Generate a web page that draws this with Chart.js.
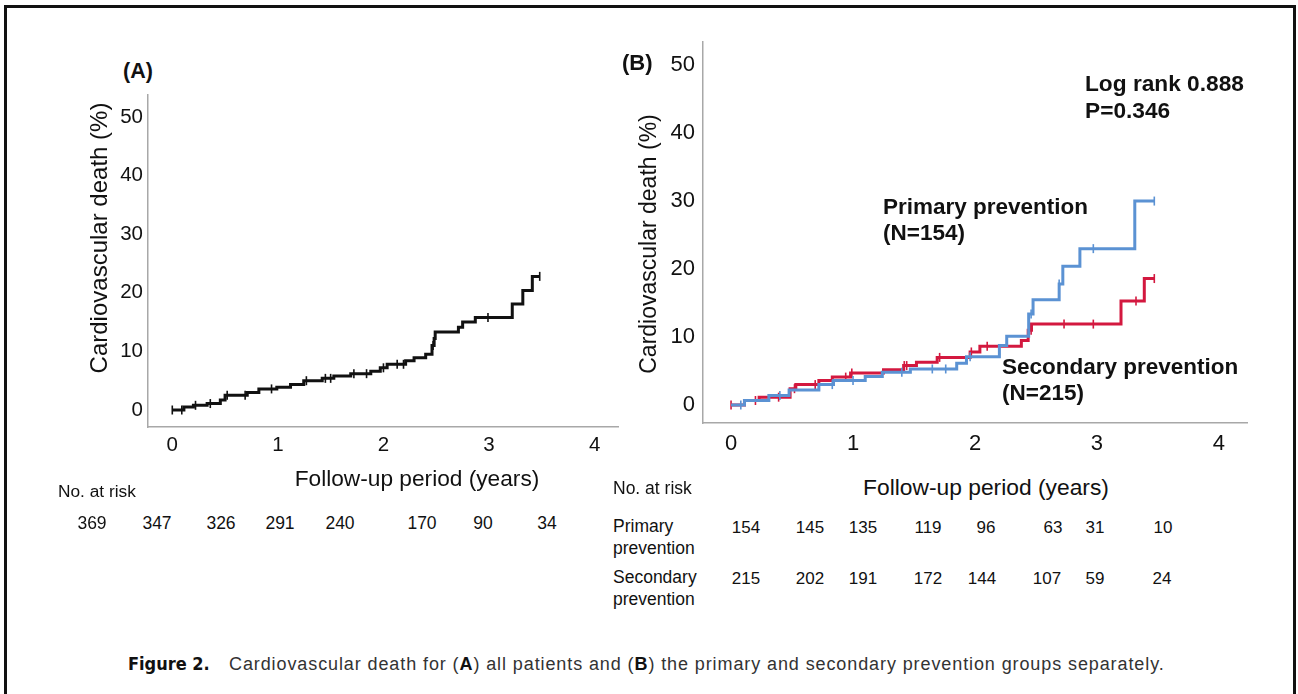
<!DOCTYPE html>
<html>
<head>
<meta charset="utf-8">
<script src="https://cdn.jsdelivr.net/npm/chart.js@4.4.1/dist/chart.umd.min.js"></script>
<style>
  body { margin: 0; width: 1298px; height: 694px; background: #fff; position: relative; overflow: hidden;
         font-family: 'Liberation Sans', Arial, sans-serif; color: #111; }
  .frame { position: absolute; left: 4px; top: 5px; width: 1286px; height: 720px; border: 3px solid #111; border-bottom: none; }
  .t { position: absolute; white-space: nowrap; line-height: 1; }
  .c { transform: translate(-50%, -50%); }
  .l { transform: translateY(-50%); }
  .b { font-weight: bold; }
  .rot { transform: translate(-50%, -50%) rotate(-90deg); }
  canvas { position: absolute; }
</style>
</head>
<body>
<div class="frame"></div>

<canvas id="chartA" width="525" height="382" style="left:100px; top:85px; width:525px; height:382px;"></canvas>
<canvas id="chartB" width="605" height="433" style="left:650px; top:30px; width:605px; height:433px;"></canvas>

<div class="t l b" style="left:123px; top:72px; font-size:21.5px;">(A)</div>
<div class="t l b" style="left:622px; top:63px; font-size:22px;">(B)</div>

<div class="t rot" style="left:99px; top:238px; font-size:24px;">Cardiovascular death (%)</div>
<div class="t rot" style="left:648px; top:244px; font-size:23px;">Cardiovascular death (%)</div>
<div class="t c" style="left:417px; top:478px; font-size:22.7px;">Follow-up period (years)</div>
<div class="t c" style="left:986px; top:487px; font-size:22.8px;">Follow-up period (years)</div>

<div class="t l b" style="left:1085px; top:83px; font-size:22.7px;">Log rank 0.888</div>
<div class="t l b" style="left:1085px; top:110px; font-size:22.7px;">P=0.346</div>
<div class="t l b" style="left:883px; top:207px; font-size:22.5px;">Primary prevention</div>
<div class="t l b" style="left:883px; top:233px; font-size:22.5px;">(N=154)</div>
<div class="t l b" style="left:1002px; top:367px; font-size:22.5px;">Secondary prevention</div>
<div class="t l b" style="left:1002px; top:393px; font-size:22.5px;">(N=215)</div>

<div class="t l" style="left:58px; top:492px; font-size:17.3px;">No. at risk</div>
<div class="t l" style="left:613px; top:489px; font-size:17.5px;">No. at risk</div>
<div class="t l" style="left:613px; top:527px; font-size:17.5px;">Primary</div>
<div class="t l" style="left:613px; top:549px; font-size:17.5px;">prevention</div>
<div class="t l" style="left:613px; top:578px; font-size:17.5px;">Secondary</div>
<div class="t l" style="left:613px; top:600px; font-size:17.5px;">prevention</div>
<div id="risk"></div>

<div class="t l b" style="left:128px; top:664px; font-size:18px; font-family:'Liberation Sans Narrow','DejaVu Sans Condensed',sans-serif;">Figure 2.</div>
<div class="t l" style="left:229px; top:664px; font-size:18px; letter-spacing:0.9px; color:#333;">Cardiovascular death for (<b style="color:#111">A</b>) all patients and (<b style="color:#111">B</b>) the primary and secondary prevention groups separately.</div>

<script>
// axis ticks
const xTicks = [0, 1, 2, 3, 4];
const yTicks = [0, 10, 20, 30, 40, 50];

// (A) all patients, cumulative cardiovascular death (%)
const allTime  = [0, 0.11, 0.20, 0.33, 0.455, 0.50, 0.71, 0.82, 0.99, 1.12, 1.245, 1.42, 1.53, 1.69, 1.88, 1.97, 2.035, 2.21, 2.29, 2.40, 2.46, 2.48, 2.49, 2.71, 2.75, 2.87, 3.22, 3.32, 3.41, 3.48];
const allDeath = [0, 0.5, 0.8, 1.1, 1.7, 2.5, 3.0, 3.6, 3.9, 4.35, 5.0, 5.4, 5.8, 6.2, 6.6, 7.2, 7.8, 8.4, 8.9, 9.5, 11.0, 12.2, 13.3, 14.1, 15.0, 15.8, 18.1, 20.4, 22.8, 22.8];
const allCensor = [0, 0.09, 0.22, 0.36, 0.52, 0.69, 0.94, 1.27, 1.45, 1.50, 1.72, 1.84, 2.00, 2.13, 2.19, 2.47, 2.99, 3.48];

// (B) primary prevention
const primTime  = [0, 0.11, 0.31, 0.476, 0.72, 0.84, 1.10, 1.24, 1.47, 1.85, 1.93, 2.20, 2.26, 2.44, 2.476, 2.69, 2.72, 2.86, 3.31, 3.47];
const primDeath = [0, 0.66, 1.4, 2.2, 3.0, 3.6, 4.2, 4.8, 5.3, 6.15, 7.1, 8.75, 10.1, 13.4, 15.5, 17.8, 20.4, 23.0, 30.0, 30.0];
const primCensor = [0.08, 0.40, 0.83, 1.00, 1.40, 1.65, 1.76, 1.96, 2.46, 2.69, 2.97, 3.47];

// (B) secondary prevention
const secTime  = [0, 0.11, 0.23, 0.484, 0.531, 0.72, 0.83, 0.98, 1.25, 1.415, 1.52, 1.69, 1.96, 2.04, 2.38, 2.436, 2.463, 3.197, 3.388, 3.47];
const secDeath = [0, 0.66, 1.15, 2.4, 3.0, 3.6, 4.1, 4.7, 5.2, 5.8, 6.3, 7.0, 7.8, 8.65, 9.5, 11.0, 11.9, 15.3, 18.6, 18.6];
const secCensor = [0, 0.20, 0.39, 0.52, 0.69, 0.94, 0.99, 1.42, 1.44, 1.71, 1.97, 2.10, 2.46, 2.73, 2.97, 3.32, 3.47];

// numbers at risk
const riskAll = [369, 347, 326, 291, 240, 170, 90, 34];
const riskPrim = [154, 145, 135, 119, 96, 63, 31, 10];
const riskSec = [215, 202, 191, 172, 144, 107, 59, 24];

const BLACK = '#111111', BLUE = '#5b92d3', RED = '#d3183f';
const FONT = "'Liberation Sans', Arial, sans-serif";

function stepAt(times, vals, t) {
  let v = vals[0];
  for (let i = 0; i < times.length; i++) if (times[i] <= t) v = vals[i];
  return v;
}

function curve(times, vals, color) {
  return {
    data: times.map((t, i) => ({x: t, y: vals[i]})),
    borderColor: color, borderWidth: 3, stepped: 'before',
    pointRadius: 0, fill: false
  };
}

function censor(marks, times, vals, color) {
  return {
    data: marks.map(t => ({x: t, y: stepAt(times, vals, t)})),
    showLine: false, borderColor: color,
    pointStyle: 'line', pointRotation: 90, pointRadius: 4.5,
    pointBorderColor: color, pointBorderWidth: 1.6
  };
}

// fixed axis boxes so the plot area lands exactly where the figure has it
function noPad(s) {
  s.paddingTop = 0; s.paddingBottom = 0; s.paddingLeft = 0; s.paddingRight = 0;
}

function kmChart(id, sets, cfg) {
  return new Chart(document.getElementById(id), {
    type: 'line',
    data: { datasets: sets },
    options: {
      responsive: false,
      animation: false,
      layout: { padding: cfg.pad },
      plugins: { legend: { display: false }, tooltip: { enabled: false } },
      scales: {
        x: {
          type: 'linear', min: -0.23, max: 4.23,
          grid: { display: false, drawTicks: false },
          border: { display: true, color: '#a8a8a8', width: 1.5 },
          afterBuildTicks: s => { s.ticks = xTicks.map(v => ({value: v})); },
          afterFit: s => { s.height = cfg.xh; noPad(s); },
          ticks: { color: '#111', padding: cfg.xpad, maxRotation: 0, font: { family: FONT, size: cfg.fs } }
        },
        y: {
          type: 'linear', min: cfg.ymin, max: cfg.ymax,
          grid: { display: false, drawTicks: false },
          border: { display: true, color: '#a8a8a8', width: 1.5 },
          afterBuildTicks: s => { s.ticks = yTicks.map(v => ({value: v})); },
          afterFit: s => { s.width = cfg.yw; noPad(s); },
          ticks: { color: '#111', padding: cfg.ypad, font: { family: FONT, size: cfg.fs } }
        }
      }
    }
  });
}

kmChart('chartA', [
  curve(allTime, allDeath, BLACK),
  censor(allCensor, allTime, allDeath, BLACK)
], { pad: { top: 10, right: 5, left: 0, bottom: 0 }, xh: 40, yw: 48, xpad: 6, ypad: 5, fs: 20.5, ymin: -2.9, ymax: 53.75 });

kmChart('chartB', [
  curve(primTime, primDeath, BLUE),
  censor(primCensor, primTime, primDeath, BLUE),
  curve(secTime, secDeath, RED),
  censor(secCensor, secTime, secDeath, RED)
], { pad: { top: 12, right: 8, left: 0, bottom: 0 }, xh: 40, yw: 53, xpad: 8, ypad: 8, fs: 22, ymin: -2.65, ymax: 53.4 });

// numbers-at-risk table
const riskColA = [92, 157, 221, 280, 340, 422, 483, 547];
const riskColPrim = [746, 810, 863, 928, 986, 1053, 1095, 1163];
const riskColSec = [746, 810, 863, 928, 982, 1047, 1095, 1162];
const riskBox = document.getElementById('risk');
function riskRow(vals, cols, y, size) {
  vals.forEach((v, i) => {
    const d = document.createElement('div');
    d.className = 't c';
    d.style.left = cols[i] + 'px';
    d.style.top = y + 'px';
    d.style.fontSize = size + 'px';
    d.textContent = v;
    riskBox.appendChild(d);
  });
}
riskRow(riskAll, riskColA, 524, 17.5);
riskRow(riskPrim, riskColPrim, 527, 17);
riskRow(riskSec, riskColSec, 578, 17);
</script>
</body>
</html>
